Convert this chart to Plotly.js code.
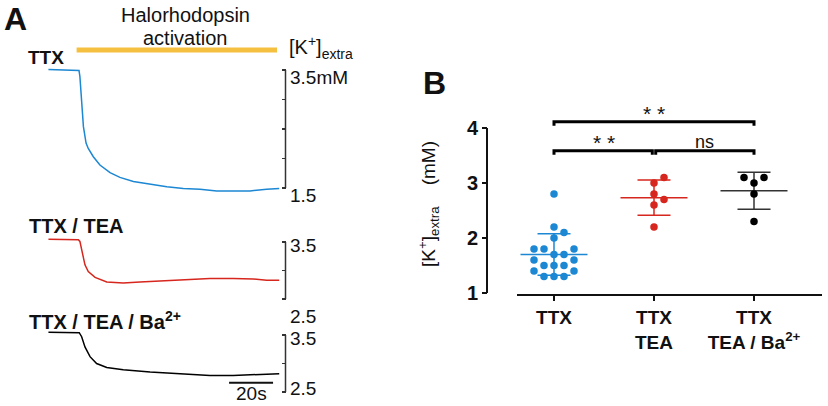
<!DOCTYPE html>
<html><head><meta charset="utf-8">
<script src="https://cdn.plot.ly/plotly-3.0.1.min.js"></script>
<style>html,body{margin:0;padding:0;background:#fff}#chart{width:828px;height:406px}</style>
</head><body><div id="chart"></div>
<script>
// ---------- Panel A: recordings (time in s, [K+]extra in mM) ----------
const ttxTime = [0.2,13.0,14.1,14.5,15.3,16.1,17.3,18.3,20.6,23.6,28.2,32.7,38.8,46.4,54.0,61.5,69.1,76.7,84.2,91.8,99.4,105.1];
const ttxK    = [3.51,3.48,3.49,3.39,2.99,2.54,2.26,2.17,2.03,1.89,1.76,1.68,1.61,1.56,1.52,1.49,1.48,1.45,1.45,1.45,1.48,1.49];
const teaTime = [0.2,13.8,14.5,15.8,16.8,18.3,21.4,26.7,34.2,41.8,50.9,61.5,73.6,84.2,93.3,99.4,105.1];
const teaK    = [3.55,3.54,3.51,3.30,3.10,2.98,2.88,2.80,2.78,2.80,2.82,2.84,2.86,2.86,2.85,2.83,2.83];
const baTime  = [0.2,13.0,14.2,15.3,16.8,19.1,22.1,26.7,34.2,46.4,61.5,73.6,84.2,93.3,99.4,105.1];
const baK     = [3.55,3.53,3.54,3.47,3.29,3.12,3.00,2.93,2.89,2.85,2.82,2.79,2.79,2.80,2.81,2.82];
const lightOn  = [13.0, 104.1];   // halorhodopsin activation (s)
const scaleBar = [82.3, 102.3];   // 20 s
const ttxTicks = [1.5, 2, 2.5, 3, 3.5];
const smallTicks = [2.5, 3, 3.5];

// ---------- Panel B: summary ----------
const groupLabels = ['TTX', 'TTX<br>TEA', 'TTX<br>TEA / Ba<sup>2+</sup>'];
const ttxValues = [2.8,2.2,2.1,2.0,1.8,1.8,1.8,1.7,1.7,1.6,1.6,1.5,1.5,1.5,1.4,1.4,1.3,1.3,1.3];
const teaValues = [3.1,3.0,2.8,2.7,2.6,2.2];
const baValues  = [3.1,3.1,3.0,2.8,2.3];
const bTicks = [1, 2, 3, 4];
const comparisons = [
  {a: 0, b: 2, label: '* *', row: 0},
  {a: 0, b: 1, label: '* *', row: 1},
  {a: 1, b: 2, label: 'ns',  row: 1}
];

// ---------- layout helpers (pixel -> paper, margins are 0) ----------
const W = 828, H = 406;
const PX = p => p / W, PY = p => 1 - p / H;
const FONT = 'Liberation Sans, Arial, sans-serif';
const BLUE = '#1c87d3', RED = '#d6261d', BLACK = '#000000';

// Panel A geometry
const aLeft = 40, aRight = 285.5, t0px = 48, pxPerSec = 2.2;
const aXRange = [(aLeft - t0px) / pxPerSec, (aRight - t0px) / pxPerSec];
function yDom(rng, refVal, refPx, pxPerUnit) {
  const top = refPx - (rng[1] - refVal) * pxPerUnit;
  const bot = refPx + (refVal - rng[0]) * pxPerUnit;
  return [PY(bot), PY(top)];
}
const yTtxRange = [1.4, 3.6], yTeaRange = [2.4, 3.7], yBaRange = [2.4, 3.7];

// Panel B geometry
const bAxisPx = 487, bXLeft = 517, bXRight = 822, bCat0 = 554, bCatStep = 100;
const bY1px = 293, bPxPerUnit = 55, bYRange = [1, 4.3];
const bXRange = [(bXLeft - bCat0) / bCatStep, (bXRight - bCat0) / bCatStep];

// simple beeswarm: offsets (px) computed from the values
function swarm(vals) {
  const order = vals.map((v, i) => i).sort((a, b) => vals[a] - vals[b]);
  const placed = [], offs = new Array(vals.length);
  const cands = [0, 1, -1, 2, -2, 3, -3, 4, -4];
  for (const i of order) {
    const yp = vals[i] * bPxPerUnit;
    for (const c of cands) {
      const xp = c * 10;
      if (placed.every(p => Math.hypot(p.x - xp, p.y - yp) >= 9)) {
        offs[i] = xp; placed.push({x: xp, y: yp}); break;
      }
    }
  }
  return offs;
}
const mean = a => a.reduce((s, v) => s + v, 0) / a.length;
const sd = a => { const m = mean(a); return Math.sqrt(a.reduce((s, v) => s + (v - m) ** 2, 0) / (a.length - 1)); };

const traces = [];
// Panel A traces
traces.push({x: ttxTime, y: ttxK, xaxis: 'x', yaxis: 'y', mode: 'lines', line: {color: BLUE, width: 1.5}, hoverinfo: 'skip'});
traces.push({x: teaTime, y: teaK, xaxis: 'x', yaxis: 'y3', mode: 'lines', line: {color: RED, width: 1.5}, hoverinfo: 'skip'});
traces.push({x: baTime, y: baK, xaxis: 'x', yaxis: 'y4', mode: 'lines', line: {color: BLACK, width: 1.5}, hoverinfo: 'skip'});

// Panel B traces
const groups = [
  {vals: ttxValues, color: BLUE, bar: BLUE},
  {vals: teaValues, color: RED, bar: RED},
  {vals: baValues, color: BLACK, bar: '#333333'}
];
groups.forEach((g, gi) => {
  const m = mean(g.vals), s = sd(g.vals);
  traces.push({x: [gi], y: [m], xaxis: 'x2', yaxis: 'y2', mode: 'markers', marker: {size: 1, opacity: 0},
    error_y: {type: 'data', array: [s], visible: true, width: 16.5, thickness: 1.5, color: g.bar}, hoverinfo: 'skip'});
  traces.push({x: [gi - 0.335, gi + 0.335], y: [m, m], xaxis: 'x2', yaxis: 'y2', mode: 'lines',
    line: {color: g.bar, width: 1.5}, hoverinfo: 'skip'});
});
groups.forEach((g, gi) => {
  const offs = swarm(g.vals);
  traces.push({x: g.vals.map((v, i) => gi + offs[i] / bCatStep), y: g.vals, xaxis: 'x2', yaxis: 'y2',
    mode: 'markers', marker: {color: g.color, size: 7.5, line: {width: 0}}, hoverinfo: 'skip'});
});

// shapes
const shapes = [];
shapes.push({type: 'line', xref: 'x', yref: 'paper', x0: lightOn[0], x1: lightOn[1], y0: PY(50), y1: PY(50),
  line: {color: '#f5bf40', width: 5}});
shapes.push({type: 'line', xref: 'x', yref: 'paper', x0: scaleBar[0], x1: scaleBar[1], y0: PY(382.7), y1: PY(382.7),
  line: {color: '#111', width: 2}});
[['y', ttxTicks], ['y3', smallTicks], ['y4', smallTicks]].forEach(([ax, tv]) => {
  shapes.push({type: 'line', xref: 'paper', yref: ax, x0: PX(aRight), x1: PX(aRight), y0: tv[0], y1: tv[tv.length - 1],
    line: {color: '#333', width: 1.5}});
});
shapes.push({type: 'line', xref: 'paper', yref: 'y2', x0: PX(bAxisPx), x1: PX(bAxisPx), y0: bTicks[0], y1: bTicks[bTicks.length - 1],
  line: {color: '#111', width: 2}});
const rowY = [4.115, 3.587], drop = 0.075, gap = 0.017;
comparisons.forEach(c => {
  const y = rowY[c.row];
  const x0 = c.a + (c.row === 1 && c.a === 1 ? gap : 0);
  const x1 = c.b - (c.row === 1 && c.b === 1 ? gap : 0);
  shapes.push({type: 'path', xref: 'x2', yref: 'y2',
    path: `M ${x0},${y - drop} L ${x0},${y} L ${x1},${y} L ${x1},${y - drop}`,
    line: {color: '#000', width: 3}});
});

// annotations
const ann = [];
function txt(text, px, py, size, opts = {}) {
  ann.push(Object.assign({text, x: PX(px), y: PY(py), xref: 'paper', yref: 'paper', showarrow: false,
    xanchor: 'left', yanchor: 'middle', font: {family: FONT, size, color: '#111'}}, opts));
}
txt('<b>A</b>', 2, 19, 32);
txt('<b>B</b>', 421, 83, 32);
txt('Halorhodopsin', 185, 15, 20, {xanchor: 'center'});
txt('activation', 185, 38, 20, {xanchor: 'center'});
txt('[K<sup>+</sup>]<sub>extra</sub>', 287, 48, 20);
txt('<b>TTX</b>', 26, 58, 19);
txt('<b>TTX / TEA</b>', 27, 226, 20);
txt('<b>TTX / TEA / Ba<sup>2+</sup></b>', 27, 320, 20);
txt('20s', 251, 393, 19, {xanchor: 'center'});
// A axis labels
[['y', 3.5, '3.5mM', -7], ['y', 1.5, '1.5', -7], ['y3', 3.5, '3.5', -3], ['y3', 2.5, '2.5', -17],
 ['y4', 3.5, '3.5', -4], ['y4', 2.5, '2.5', 4]].forEach(([ax, v, t, sh]) => {
  ann.push({text: t, xref: 'paper', yref: ax, x: PX(288), y: v, yshift: sh, showarrow: false,
    xanchor: 'left', yanchor: 'middle', font: {family: FONT, size: 19, color: '#111'}});
});
// B y title
txt('[K<sup>+</sup>]<sub>extra</sub>    (mM)', 428, 204, 19, {xanchor: 'center', textangle: -90});
// significance labels
comparisons.forEach(c => {
  const isStar = c.label.indexOf('*') >= 0;
  ann.push({text: c.label, xref: 'x2', yref: 'y2', x: (c.a + c.b) / 2, y: rowY[c.row], yshift: isStar ? 8 : 9, showarrow: false,
    xanchor: 'center', yanchor: 'middle', font: {family: FONT, size: isStar ? 21 : 18, color: '#111'}});
});

const layout = {
  width: W, height: H, margin: {l: 0, r: 0, t: 0, b: 0}, paper_bgcolor: '#fff', plot_bgcolor: 'rgba(0,0,0,0)',
  showlegend: false, font: {family: FONT, color: '#111'},
  xaxis: {domain: [PX(aLeft), PX(aRight)], range: aXRange, visible: false, fixedrange: true},
  yaxis: {domain: yDom(yTtxRange, 3.5, 70, 59), range: yTtxRange, anchor: 'x', side: 'right', showline: false,
    showgrid: false, zeroline: false, ticks: 'inside', tickvals: ttxTicks, ticklen: 4, tickwidth: 1.5, tickcolor: '#333', showticklabels: false},
  yaxis3: {domain: yDom(yTeaRange, 3.5, 242, 57), range: yTeaRange, anchor: 'x', side: 'right', showline: false,
    showgrid: false, zeroline: false, ticks: 'inside', tickvals: smallTicks, ticklen: 4, tickwidth: 1.5, tickcolor: '#333', showticklabels: false},
  yaxis4: {domain: yDom(yBaRange, 3.5, 335, 57), range: yBaRange, anchor: 'x', side: 'right', showline: false,
    showgrid: false, zeroline: false, ticks: 'inside', tickvals: smallTicks, ticklen: 4, tickwidth: 1.5, tickcolor: '#333', showticklabels: false},
  xaxis2: {domain: [PX(bXLeft), PX(bXRight)], range: bXRange, anchor: 'free', position: PY(295), showline: true, linewidth: 2,
    linecolor: '#111', ticks: 'outside', ticklen: 5, tickwidth: 2, tickcolor: '#111', tickvals: [0, 1, 2], ticktext: groupLabels,
    tickfont: {family: FONT, size: 19, weight: 'bold', color: '#111'}, showgrid: false, zeroline: false},
  yaxis2: {domain: [PY(bY1px), PY(bY1px - (bYRange[1] - bYRange[0]) * bPxPerUnit)], range: bYRange, anchor: 'free',
    position: PX(bAxisPx), showline: false, ticks: 'outside', ticklen: 5, tickwidth: 2, tickcolor: '#111',
    tickvals: bTicks, tickfont: {family: FONT, size: 20, weight: 'bold', color: '#111'}, showgrid: false, zeroline: false},
  shapes, annotations: ann
};
Plotly.newPlot('chart', traces, layout, {staticPlot: true, displayModeBar: false});
</script></body></html>
